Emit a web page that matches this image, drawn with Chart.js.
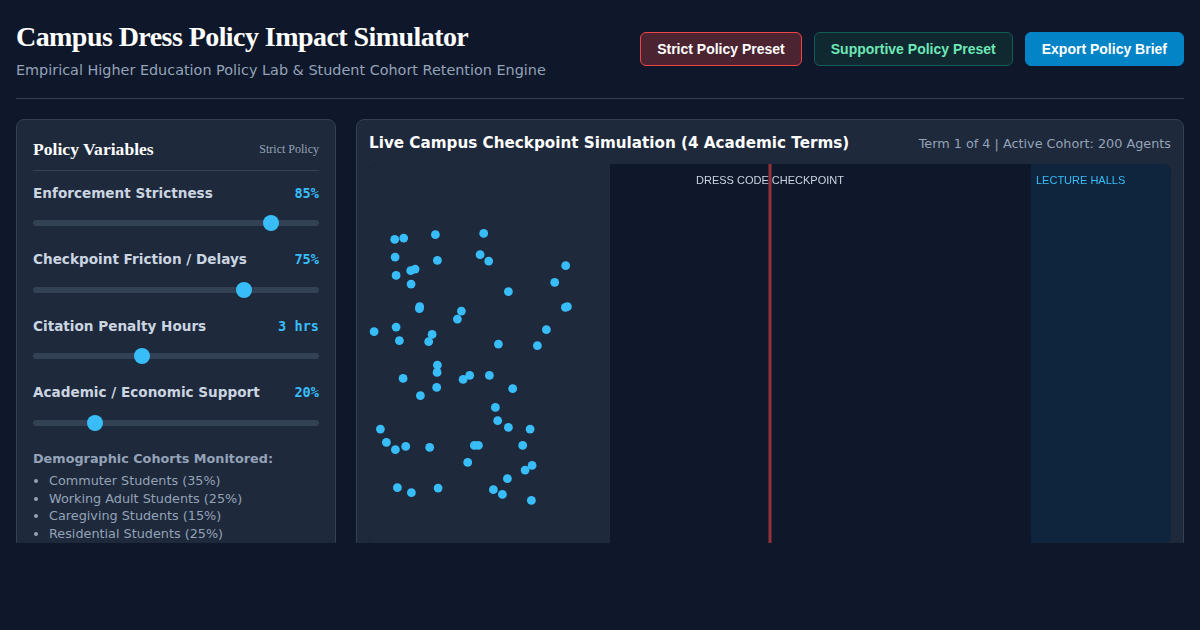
<!DOCTYPE html>
<html>
<head>
<meta charset="utf-8">
<title>Campus Dress Policy Impact Simulator</title>
<script src="https://cdn.jsdelivr.net/npm/chart.js@4"></script>
<style>
    * { box-sizing: border-box; }
    html, body { margin: 0; width: 1200px; height: 630px; overflow: hidden; background: #0f172a; font-family: "DejaVu Sans", sans-serif; }
    #app { width: 1200px; height: 543px; overflow: hidden; padding: 16px; position: relative; }
    header { display: flex; justify-content: space-between; height: 83px; border-bottom: 1px solid #334155; }
    h1 { margin: 0; padding-top: 3px; font: bold 28px/36px "Liberation Serif", serif; letter-spacing: -0.56px; color: #fff; }
    .sub { margin-top: 5px; font-size: 14.4px; line-height: 20px; color: #94a3b8; }
    .btns { display: flex; gap: 12px; padding-top: 16px; }
    button { height: 34px; padding: 0 16px; border-radius: 6px; font: bold 14px "Liberation Sans", sans-serif; border: 1px solid; }
    .b1 { background: #4c2431; border-color: #ef4444; color: #fff; }
    .b2 { background: #10282f; border-color: #115e59; color: #6ee7b7; }
    .b3 { background: #0284c7; border-color: #0284c7; color: #fff; }
    .main { display: flex; gap: 20px; margin-top: 20px; }
    .panel { background: #1e293b; border: 1px solid #334155; border-radius: 8px; height: 600px; }
    #left { width: 320px; padding: 16px; }
    #right { width: 828px; padding: 12px; }
    .ptitle { display: flex; justify-content: space-between; align-items: center; height: 35px; border-bottom: 1px solid #334155; font-family: "Liberation Serif", serif; padding-bottom: 7px; }
    .ptitle b { font-size: 17.6px; color: #fff; }
    .ptitle span { font-size: 12px; color: #94a3b8; }
    .row { position: relative; top: -0.3px; display: flex; justify-content: space-between; font-size: 13.6px; font-weight: bold; line-height: 18px; color: #cbd5e1; margin-top: 13px; }
    .row em { font: bold 13.6px/18px "DejaVu Sans Mono", monospace; color: #38bdf8; }
    input[type=range] { -webkit-appearance: none; appearance: none; display: block; width: 286px; height: 6px; margin: 18px 0 24.5px; background: #334155; border-radius: 3px; }
    input[type=range]::-webkit-slider-thumb { -webkit-appearance: none; width: 16px; height: 16px; border-radius: 50%; background: #38bdf8; }
    h4 { margin: 0; font-size: 12.8px; line-height: 18px; color: #94a3b8; }
    ul { margin: 4.2px 0 0; padding-left: 16px; font-size: 12.8px; line-height: 17.6px; color: #94a3b8; }
    .ctitle { display: flex; justify-content: space-between; align-items: center; height: 20px; margin-top: 1px; margin-bottom: 11px; }
    .ctitle b { font-size: 15.2px; color: #fff; }
    .ctitle span { font-size: 12.8px; color: #94a3b8; }
    #stage { position: relative; width: 802px; height: 380px; border-radius: 8px; overflow: hidden; background: #0f172a; }
    #stage canvas { position: absolute; left: 0; top: 0; }
    .zlabel { position: absolute; top: 9px; font: 11px/14px "Liberation Sans", sans-serif; white-space: nowrap; }
</style>
</head>
<body>
<div id="app">
    <header>
        <div>
            <h1>Campus Dress Policy Impact Simulator</h1>
            <div class="sub">Empirical Higher Education Policy Lab &amp; Student Cohort Retention Engine</div>
        </div>
        <div class="btns">
            <button class="b1">Strict Policy Preset</button>
            <button class="b2">Supportive Policy Preset</button>
            <button class="b3">Export Policy Brief</button>
        </div>
    </header>
    <div class="main">
        <div class="panel" id="left">
            <div class="ptitle"><b>Policy Variables</b><span>Strict Policy</span></div>
            <div id="sliders"></div>
            <h4>Demographic Cohorts Monitored:</h4>
            <ul id="cohorts"></ul>
        </div>
        <div class="panel" id="right">
            <div class="ctitle"><b>Live Campus Checkpoint Simulation (4 Academic Terms)</b><span>Term 1 of 4 | Active Cohort: 200 Agents</span></div>
            <div id="stage">
                <canvas id="simChart" width="802" height="380"></canvas>
                <div class="zlabel" style="left:327px;color:#cbd5e1">DRESS CODE CHECKPOINT</div>
                <div class="zlabel" style="left:667px;color:#38bdf8">LECTURE HALLS</div>
            </div>
        </div>
    </div>
</div>
<script>
const sliderLabels = ['Enforcement Strictness', 'Checkpoint Friction / Delays', 'Citation Penalty Hours', 'Academic / Economic Support'];
const sliderValues = [85, 75, 3, 20];
const sliderMax = [100, 100, 8, 100];
const sliderUnits = ['%', '%', ' hrs', '%'];
const cohortNames = ['Commuter Students (35%)', 'Working Adult Students (25%)', 'Caregiving Students (15%)', 'Residential Students (25%)'];

// agent positions (sim units, 802 x 380 stage)
const agentX = [25.7, 34.7, 66.4, 114.7, 26.1, 68.4, 111.1, 119.7, 196.7, 41.7, 46.1, 27.1, 42.1, 185.7, 139.4, 50.7, 50.4, 198.4, 196.4, 92.4, 88.4, 177.4, 27.1, 5.1, 63.1, 30.4, 59.7, 129.4, 168.4,
    68.4, 68.1, 34.1, 100.7, 94.1, 120.4, 67.7, 51.4, 143.7, 126.4, 128.7, 139.4, 161.1, 11.4, 17.4, 26.4, 36.7, 60.7, 105.4, 109.4, 153.7, 98.7, 163.1, 156.1, 138.4, 28.4, 42.4, 69.1, 124.4, 133.4, 162.4];
const agentY = [75.4, 74.1, 70.7, 69.4, 93.1, 96.4, 90.7, 97.1, 101.7, 106.7, 105.1, 111.4, 120.1, 118.4, 127.7, 142.7, 144.7, 142.7, 143.4, 147.1, 155.1, 165.7, 163.1, 167.7, 170.4, 176.7, 177.7, 180.1, 181.7,
    201.1, 208.4, 214.4, 211.4, 215.4, 211.4, 223.4, 231.7, 224.7, 243.4, 256.7, 263.4, 265.1, 265.1, 278.4, 285.7, 282.4, 283.4, 281.4, 281.4, 281.4, 298.4, 301.4, 306.1, 314.7, 323.7, 328.7, 324.1, 325.7, 330.4, 336.4];

const stageWidth = 802;
const stageHeight = 380;
const zoneEdges = [0, 241, 662, 802];
const zoneColors = ['#1e293b', '#0f172a', '#0f253d'];
const checkpointX = 401;

document.getElementById('sliders').innerHTML = sliderLabels.map((label, i) =>
    '<div class="row"><span>' + label + '</span><em>' + sliderValues[i] + sliderUnits[i] + '</em></div>' +
    '<input type="range" min="0" max="' + sliderMax[i] + '" value="' + sliderValues[i] + '">').join('');
document.getElementById('cohorts').innerHTML = cohortNames.map(c => '<li>' + c + '</li>').join('');

const zonePlugin = {
    id: 'zones',
    beforeDatasetsDraw(chart) {
        const { ctx, scales, chartArea } = chart;
        zoneColors.forEach((color, i) => {
            const x0 = scales.x.getPixelForValue(zoneEdges[i]);
            const x1 = scales.x.getPixelForValue(zoneEdges[i + 1]);
            ctx.fillStyle = color;
            ctx.fillRect(x0, chartArea.top, x1 - x0, chartArea.bottom - chartArea.top);
        });
    }
};

new Chart(document.getElementById('simChart').getContext('2d'), {
    type: 'scatter',
    data: {
        datasets: [{
            label: 'Checkpoint',
            type: 'line',
            data: [{ x: checkpointX, y: 0 }, { x: checkpointX, y: stageHeight }],
            borderColor: 'rgba(239,68,68,0.6)',
            borderWidth: 3,
            pointRadius: 0,
            order: 2
        }, {
            label: 'Agents',
            data: agentX.map((x, i) => ({ x: x, y: agentY[i] })),
            backgroundColor: '#38bdf8',
            pointRadius: 4.4,
            pointBorderWidth: 0,
            order: 1
        }]
    },
    options: {
        responsive: false,
        animation: false,
        layout: { padding: 0, autoPadding: false },
        plugins: { legend: { display: false }, tooltip: { enabled: false } },
        scales: {
            x: { type: 'linear', min: 0, max: stageWidth, display: false },
            y: { type: 'linear', min: 0, max: stageHeight, reverse: true, display: false }
        }
    },
    plugins: [zonePlugin]
});
</script>
</body>
</html>
